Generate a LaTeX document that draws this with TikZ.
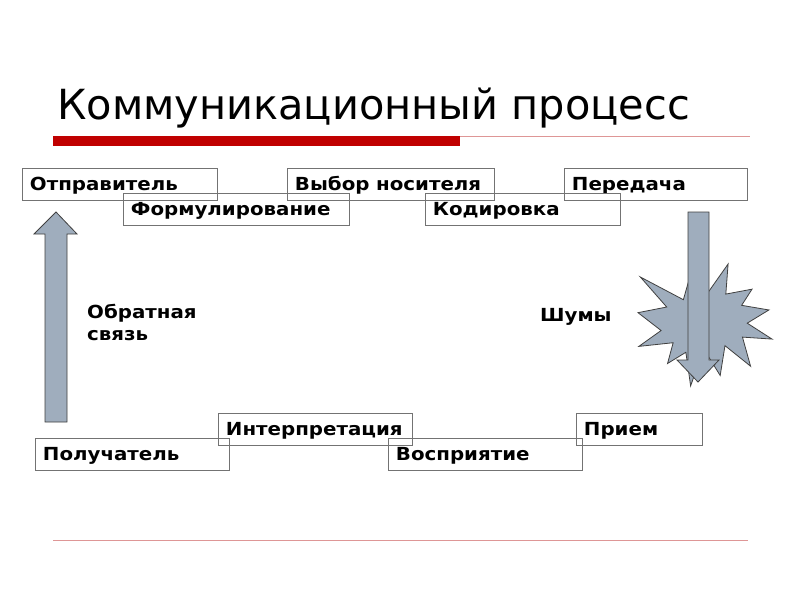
\documentclass[tikz,border=0pt]{standalone}
\usepackage{fontspec}
\setmainfont{DejaVu Sans}
\newcommand{\widetxt}[1]{\scalebox{1.1}[1]{#1}}
\begin{document}
\begin{tikzpicture}[x=1pt,y=-1pt,
  box/.style={draw=black!55, line width=0.9pt, anchor=north west, inner xsep=7.5pt, inner ysep=0pt,
    minimum height=32pt, text height=13pt, text depth=0pt, align=left, font=\bfseries\fontsize{18}{20}\selectfont},
  blockarrow/.style={draw=black!75, line width=0.8pt, fill=arrowfill},
  lbl/.style={anchor=base west, inner sep=0pt, font=\bfseries\fontsize{18}{20}\selectfont}]
\definecolor{arrowfill}{RGB}{159,173,189}
\definecolor{redbar}{RGB}{192,0,0}
\definecolor{thinred}{RGB}{222,150,150}
\useasboundingbox[fill=white] (0,0) rectangle (800,600);
% title
\node[anchor=base west, inner sep=0pt, font=\fontsize{41.5}{44}\selectfont] (title) at (57,119) {Коммуникационный процесс};
\fill[redbar] (53,136) rectangle (460,146);
\draw[thinred, line width=0.8pt] (460,136.5) -- (750,136.5);
\draw[thinred, line width=0.8pt] (53,540) -- (748,540);
% boxes
\node[box, text width=180pt] (otpr) at (22,168) {\widetxt{Отправитель}};
\node[box, text width=192pt] (vybor) at (287,168) {\widetxt{Выбор носителя}};
\node[box, text width=168pt] (pered) at (564,168) {\widetxt{Передача}};
\node[box, text width=211pt] (form) at (123,193) {\widetxt{Формулирование}};
\node[box, text width=180pt] (kod) at (425,193) {\widetxt{Кодировка}};
\node[box, text width=179pt] (interp) at (218,413) {\widetxt{Интерпретация}};
\node[box, text width=111pt] (priem) at (576,413) {\widetxt{Прием}};
\node[box, text width=179pt] (poluch) at (35,438) {\widetxt{Получатель}};
\node[box, text width=179pt] (vospr) at (388,438) {\widetxt{Восприятие}};
% labels
\node[lbl] (obr1) at (87,318) {\widetxt{Обратная}};
\node[lbl] (obr2) at (87,340) {\widetxt{связь}};
\node[lbl] (shum) at (540,321) {\widetxt{Шумы}};
% feedback arrow (up)
\draw[blockarrow] (45,422) -- (45,234) -- (34,234) -- (56,212) -- (77,234) -- (67,234) -- (67,422) -- cycle;
% noise explosion
\begin{scope}[shift={(638,264)}, x=0.62037pt, y=-0.56481pt]
\draw[blockarrow] (108,58) -- (145.22,0) -- (141.55,53.25) -- (183.80,44.57) -- (167.02,73.15) -- (210.97,81.37) -- (176.07,104.75) -- (216,132.90) -- (168.37,129.42) -- (181.45,180.95) -- (140.20,144.57) -- (132.47,197.37) -- (105.32,149.35) -- (84.85,216) -- (77.15,156.27) -- (47.62,176.17) -- (56.67,139.37) -- (1.35,145.87) -- (37.22,117.75) -- (0,86.15) -- (46.27,76.17) -- (3.70,22.95) -- (73.12,63.20) -- (83.52,22.95) -- cycle;
\end{scope}
% transmission arrow (down)
\draw[blockarrow] (688,212) -- (709,212) -- (709,360) -- (719,360) -- (698,382) -- (677,360) -- (688,360) -- cycle;
\end{tikzpicture}
\end{document}
